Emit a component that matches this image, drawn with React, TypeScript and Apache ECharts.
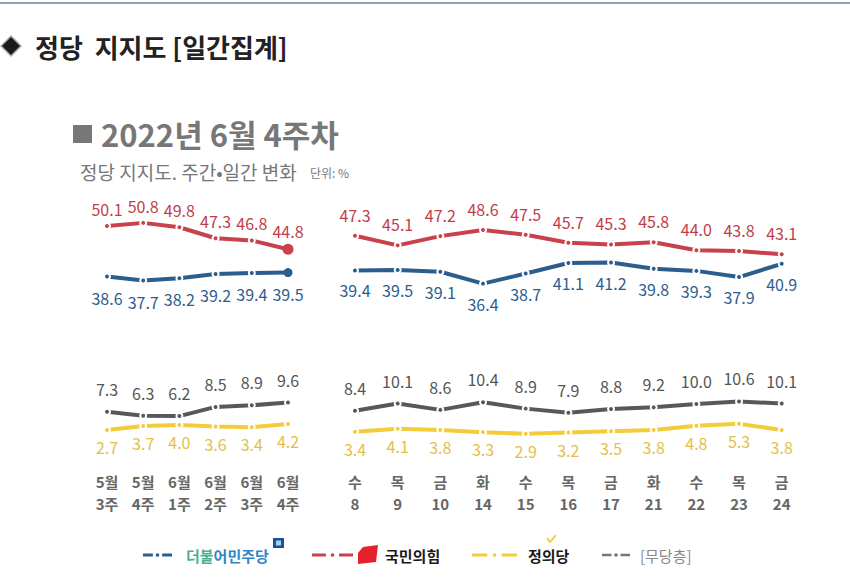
import React, { useEffect, useRef } from "react";
import * as echarts from "echarts";

const weekLabels = ["5월\n3주", "5월\n4주", "6월\n1주", "6월\n2주", "6월\n3주", "6월\n4주"];
const dayLabels = ["수\n8", "목\n9", "금\n10", "화\n14", "수\n15", "목\n16", "금\n17", "화\n21", "수\n22", "목\n23", "금\n24"];

const weekMinju = [38.6, 37.7, 38.2, 39.2, 39.4, 39.5];
const weekPPP = [50.1, 50.8, 49.8, 47.3, 46.8, 44.8];
const weekNone = [7.3, 6.3, 6.2, 8.5, 8.9, 9.6];
const weekJustice = [2.7, 3.7, 4.0, 3.6, 3.4, 4.2];

const dayMinju = [39.4, 39.5, 39.1, 36.4, 38.7, 41.1, 41.2, 39.8, 39.3, 37.9, 40.9];
const dayPPP = [47.3, 45.1, 47.2, 48.6, 47.5, 45.7, 45.3, 45.8, 44.0, 43.8, 43.1];
const dayNone = [8.4, 10.1, 8.6, 10.4, 8.9, 7.9, 8.8, 9.2, 10.0, 10.6, 10.1];
const dayJustice = [3.4, 4.1, 3.8, 3.3, 2.9, 3.2, 3.5, 3.8, 4.8, 5.3, 3.8];

const FONT = "'Noto Sans CJK KR', 'Noto Sans', sans-serif";

const BLUE = "#2b5e8c";
const RED = "#c8414b";
const GRAY = "#55595e";
const YELLOW = "#f2cc3a";

function mkSeries(
  name: string,
  data: number[],
  idx: number,
  color: string,
  labelColor: string,
  pos: "top" | "bottom",
  dist: number,
  bigLast: number
) {
  return {
    type: "line",
    name,
    xAxisIndex: idx,
    yAxisIndex: idx,
    data: data.map((v, i) =>
      bigLast && i === data.length - 1
        ? { value: v, symbolSize: bigLast, itemStyle: { color, borderWidth: 0 } }
        : v
    ),
    symbol: "circle",
    symbolSize: 6,
    itemStyle: { color, borderColor: "#fff", borderWidth: 2 },
    lineStyle: { color, width: 4 },
    label: {
      show: true,
      position: pos,
      distance: dist,
      color: labelColor,
      fontSize: 16,
      fontFamily: FONT,
      formatter: (p: any) => (p.value as number).toFixed(1),
    },
    z: 3,
  };
}

export default function App() {
  const ref = useRef<HTMLDivElement>(null);
  useEffect(() => {
    if (!ref.current) return;
    const chart = echarts.init(ref.current, undefined, { renderer: "svg" });
    const grids = [
      { left: 107, width: 181, top: 217.6, height: 74.8 },
      { left: 355, width: 426.7, top: 215, height: 74.8 },
      { left: 107, width: 181, top: 392.9, height: 44 },
      { left: 355, width: 426.7, top: 395.6, height: 46.2 },
    ];
    const xAxes = grids.map((_, i) => ({
      type: "category",
      gridIndex: i,
      data: i % 2 === 0 ? weekLabels : dayLabels,
      boundaryGap: false,
      axisLine: { show: false },
      axisTick: { show: false },
      axisLabel: {
        show: i >= 2,
        margin: i === 2 ? 33.6 : 28.7,
        color: "#666",
        fontSize: 15,
        fontWeight: "bold",
        lineHeight: 22,
        fontFamily: FONT,
        interval: 0,
      },
      splitLine: { show: false },
    }));
    const yAxes = grids.map((_, i) => ({
      type: "value",
      gridIndex: i,
      min: i < 2 ? 35 : 1,
      max: i < 2 ? 52 : 12,
      show: false,
      splitLine: { show: false },
    }));

    const legendY = 555;
    const dashLine = (x1: number, x2: number, color: string, w: number) => {
      const mid = (x1 + x2) / 2;
      const gap = (x2 - x1) * 0.16;
      return [
        { type: "line", shape: { x1, y1: legendY, x2: mid - gap, y2: legendY }, style: { stroke: color, lineWidth: w } },
        { type: "circle", shape: { cx: mid, cy: legendY, r: 1.8 }, style: { fill: color } },
        { type: "line", shape: { x1: mid + gap, y1: legendY, x2, y2: legendY }, style: { stroke: color, lineWidth: w } },
      ];
    };

    const graphic: any[] = [
      { type: "line", shape: { x1: 0, y1: 3, x2: 850, y2: 3 }, style: { stroke: "#8fa3b8", lineWidth: 2 } },
      { type: "polygon", shape: { points: [[11, 36], [21, 46], [11, 56], [1, 46]] }, style: { fill: "#1a1a1a", stroke: "#aaa", lineWidth: 1.5 } },
      { type: "text", x: 35, y: 46, style: { text: "정당  지지도 [일간집계]", fill: "#222", fontSize: 26, lineHeight: 28, fontWeight: "bold", fontFamily: FONT, verticalAlign: "middle" } },
      { type: "rect", shape: { x: 73, y: 125, width: 19, height: 18 }, style: { fill: "#777" } },
      { type: "text", x: 101, y: 133, style: { text: "2022년 6월 4주차", fill: "#777", fontSize: 31, lineHeight: 31, fontWeight: "bold", fontFamily: FONT, verticalAlign: "middle" } },
      { type: "text", x: 80, y: 171, style: { text: "정당 지지도. 주간•일간 변화", fill: "#777", fontSize: 19, lineHeight: 19, fontFamily: FONT, verticalAlign: "middle" } },
      { type: "text", x: 310, y: 172, style: { text: "단위: %", fill: "#777", fontSize: 12, lineHeight: 12, fontFamily: FONT, verticalAlign: "middle" } },
      // legend: Minju
      ...dashLine(143, 172, BLUE, 3),
      {
        type: "text", x: 186, y: legendY,
        style: {
          text: "{a|더불}{b|어민주당}", fontSize: 15, fontWeight: "bold", fontFamily: FONT, verticalAlign: "middle",
          rich: {
            a: { fill: "#49b28c", color: "#49b28c", fontSize: 15, fontWeight: "bold", fontFamily: FONT },
            b: { fill: "#2f86c6", color: "#2f86c6", fontSize: 15, fontWeight: "bold", fontFamily: FONT },
          },
        },
      },
      { type: "rect", shape: { x: 273, y: 538, width: 11, height: 10 }, style: { fill: "#1f4f9a" } },
      { type: "rect", shape: { x: 276, y: 540.5, width: 5, height: 5 }, style: { fill: "#9fd6e6" } },
      // legend: PPP
      ...dashLine(312, 353, RED, 3),
      { type: "polygon", shape: { points: [[363, 547], [378, 545], [376, 562], [358, 564], [358, 553]] }, style: { fill: "#e5212b" } },
      { type: "text", x: 385, y: legendY, style: { text: "국민의힘", fill: "#1a1a1a", fontSize: 15, fontWeight: "bold", fontFamily: FONT, verticalAlign: "middle" } },
      // legend: Justice
      ...dashLine(472, 517, YELLOW, 3),
      { type: "text", x: 528, y: legendY, style: { text: "정의당", fill: "#1a1a1a", fontSize: 15, fontWeight: "bold", fontFamily: FONT, verticalAlign: "middle" } },
      { type: "polyline", shape: { points: [[547, 538], [550, 542], [556, 535]] }, style: { stroke: YELLOW, lineWidth: 1.8, fill: null } },
      // legend: none
      ...dashLine(602, 630, "#777", 2.5),
      { type: "text", x: 640, y: legendY, style: { text: "[무당층]", fill: "#888", fontSize: 15, fontFamily: FONT, verticalAlign: "middle" } },
    ];

    chart.setOption({
      animation: false,
      backgroundColor: "#fff",
      grid: grids,
      xAxis: xAxes,
      yAxis: yAxes,
      graphic,
      series: [
        mkSeries("국민의힘", weekPPP, 0, RED, "#c23d48", "top", 5, 11),
        mkSeries("더불어민주당", weekMinju, 0, BLUE, "#2d5d8f", "bottom", 9, 9),
        mkSeries("국민의힘", dayPPP, 1, RED, "#c23d48", "top", 9, 0),
        mkSeries("더불어민주당", dayMinju, 1, BLUE, "#2d5d8f", "bottom", 8, 0),
        mkSeries("무당층", weekNone, 2, GRAY, "#555", "top", 11, 0),
        mkSeries("정의당", weekJustice, 2, YELLOW, "#e3c04a", "bottom", 5, 0),
        mkSeries("무당층", dayNone, 3, GRAY, "#555", "top", 11, 0),
        mkSeries("정의당", dayJustice, 3, YELLOW, "#e3c04a", "bottom", 5, 0),
      ],
    });
    return () => chart.dispose();
  }, []);
  return <div ref={ref} style={{ position: "absolute", left: 0, top: 0, width: 850, height: 584 }} />;
}
